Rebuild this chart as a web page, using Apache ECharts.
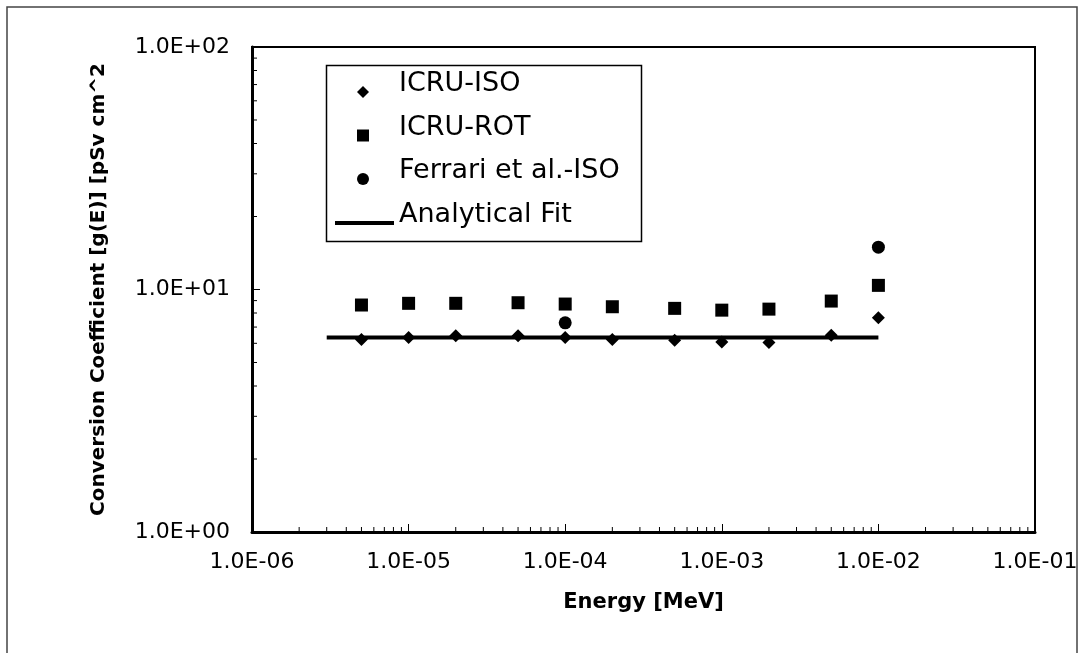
<!DOCTYPE html>
<html>
<head>
<meta charset="utf-8">
<script src="https://cdn.jsdelivr.net/npm/echarts@6/dist/echarts.min.js"></script>
<style>html,body{margin:0;padding:0;background:#fff;}#c{width:1084px;height:653px;}</style>
</head>
<body>
<div id="c"></div>
<script>
// ---- data ----
const energies = [5e-6, 1e-5, 2e-5, 5e-5, 1e-4, 2e-4, 5e-4, 1e-3, 2e-3, 5e-3, 1e-2];
const icruIso = [6.22, 6.34, 6.44, 6.44, 6.34, 6.22, 6.18, 6.08, 6.04, 6.48, 7.64];
const icruRot = [8.63, 8.77, 8.77, 8.82, 8.71, 8.49, 8.36, 8.22, 8.30, 8.96, 10.4];
const ferrariE = [1e-4, 1e-2];
const ferrariIso = [7.29, 14.95];
const fitE = [3e-6, 1e-2];
const fitVals = [6.34, 6.34];
const xTickValues = [1e-6, 1e-5, 1e-4, 1e-3, 1e-2, 1e-1];
const xTickLabels = ['1.0E-06', '1.0E-05', '1.0E-04', '1.0E-03', '1.0E-02', '1.0E-01'];
const yTickValues = [1, 10, 100];
const yTickLabels = ['1.0E+00', '1.0E+01', '1.0E+02'];
const seriesNames = ['ICRU-ISO', 'ICRU-ROT', 'Ferrari et al.-ISO', 'Analytical Fit'];

function lookup(vals, labels, v) {
  let best = 0, bd = Infinity;
  for (let i = 0; i < vals.length; i++) {
    const d = Math.abs(Math.log10(vals[i]) - Math.log10(v));
    if (d < bd) { bd = d; best = i; }
  }
  return bd < 0.01 ? labels[best] : '';
}
const pairs = (xs, ys) => xs.map((x, i) => [x, ys[i]]);

const chart = echarts.init(document.getElementById('c'), null, {renderer: 'canvas'});
const FONT = 'DejaVu Sans';
const gridL = 252, gridR = 49, gridT = 47, gridB = 121;
const legendRich = (padLeft) => ({
  t: {fontFamily: FONT, fontSize: 27, color: '#000', lineHeight: 27, padding: [0, 0, 16, padLeft]}
});

chart.setOption({
  animation: false,
  backgroundColor: '#fff',
  grid: {left: gridL, right: gridR, top: gridT, bottom: gridB, show: true, borderColor: '#000', borderWidth: 2, backgroundColor: 'transparent'},
  xAxis: {
    type: 'log', logBase: 10, min: 1e-6, max: 1e-1,
    name: 'Energy [MeV]', nameLocation: 'middle', nameGap: 60,
    nameTextStyle: {fontFamily: FONT, fontWeight: 'bold', fontSize: 21, color: '#000'},
    axisLine: {show: true, onZero: false, lineStyle: {color: '#000', width: 3}},
    axisTick: {show: true, inside: true, length: 8, lineStyle: {color: '#000', width: 1}},
    axisLabel: {fontFamily: FONT, fontSize: 22, color: '#000', margin: 19,
      formatter: v => lookup(xTickValues, xTickLabels, v)},
    splitLine: {show: false}
  },
  yAxis: {
    type: 'log', logBase: 10, min: 1, max: 100,
    name: 'Conversion Coefficient [g(E)] [pSv cm^2', nameLocation: 'middle', nameGap: 143, nameRotate: 90,
    nameTextStyle: {fontFamily: FONT, fontWeight: 'bold', fontSize: 20, color: '#000'},
    axisLine: {show: true, onZero: false, lineStyle: {color: '#000', width: 3}},
    axisTick: {show: true, inside: true, length: 8, lineStyle: {color: '#000', width: 1}},
    axisLabel: {fontFamily: FONT, fontSize: 22, color: '#000', margin: 22,
      formatter: v => lookup(yTickValues, yTickLabels, v)},
    splitLine: {show: false}
  },
  legend: [
    {
      orient: 'vertical', left: 357, top: 70.5, padding: 0,
      itemWidth: 12, itemHeight: 12, itemGap: 0.5,
      data: [
        {name: seriesNames[0], icon: 'diamond'},
        {name: seriesNames[1], icon: 'rect'},
        {name: seriesNames[2], icon: 'circle'}
      ],
      itemStyle: {color: '#000', opacity: 1},
      formatter: n => '{t|' + n + '}',
      textStyle: {rich: legendRich(25)},
      z: 10
    },
    {
      orient: 'vertical', left: 335, top: 201.5, padding: 0,
      itemWidth: 59, itemHeight: 4, itemGap: 0,
      data: [{name: seriesNames[3], icon: 'path://M0,0L59,0L59,4L0,4Z'}],
      itemStyle: {color: '#000', opacity: 1},
      formatter: n => '{t|' + n + '}',
      textStyle: {rich: legendRich(0)},
      z: 10
    }
  ],
  graphic: [
    {type: 'rect', z: -10, silent: true, shape: {x: 7, y: 7, width: 1070, height: 700},
      style: {fill: 'none', stroke: '#444', lineWidth: 1.5}},
    {type: 'rect', z: 5, silent: true, shape: {x: 326.5, y: 65.5, width: 315, height: 176},
      style: {fill: '#fff', stroke: '#000', lineWidth: 1.5}}
  ],
  series: [
    {name: seriesNames[0], type: 'scatter', symbol: 'diamond', symbolSize: 13,
      itemStyle: {color: '#000', opacity: 1}, data: pairs(energies, icruIso), z: 3},
    {name: seriesNames[1], type: 'scatter', symbol: 'rect', symbolSize: 13,
      itemStyle: {color: '#000', opacity: 1}, data: pairs(energies, icruRot), z: 3},
    {name: seriesNames[2], type: 'scatter', symbol: 'circle', symbolSize: 13,
      itemStyle: {color: '#000', opacity: 1}, data: pairs(ferrariE, ferrariIso), z: 3},
    {name: seriesNames[3], type: 'line', symbol: 'none', showSymbol: false,
      lineStyle: {color: '#000', width: 4}, itemStyle: {color: '#000'},
      data: pairs(fitE, fitVals), z: 2}
  ]
});

// minor log ticks (inside), placed through the chart's own axis scales
const extra = [];
const yBase = chart.convertToPixel({yAxisIndex: 0}, 1);
const xBase = chart.convertToPixel({xAxisIndex: 0}, 1e-6);
for (let d = -6; d <= -2; d++) {
  for (let k = 2; k <= 9; k++) {
    const px = chart.convertToPixel({xAxisIndex: 0}, k * Math.pow(10, d));
    extra.push({type: 'line', silent: true, z: 4, shape: {x1: px, y1: yBase, x2: px, y2: yBase - 5},
      style: {stroke: '#000', lineWidth: 1}});
  }
}
for (let d = 0; d <= 1; d++) {
  for (let k = 2; k <= 9; k++) {
    const py = chart.convertToPixel({yAxisIndex: 0}, k * Math.pow(10, d));
    extra.push({type: 'line', silent: true, z: 4, shape: {x1: xBase, y1: py, x2: xBase + 5, y2: py},
      style: {stroke: '#000', lineWidth: 1}});
  }
}
const opt = chart.getOption();
chart.setOption({graphic: opt.graphic[0].elements.concat(extra)}, {replaceMerge: ['graphic']});
</script>
</body>
</html>
